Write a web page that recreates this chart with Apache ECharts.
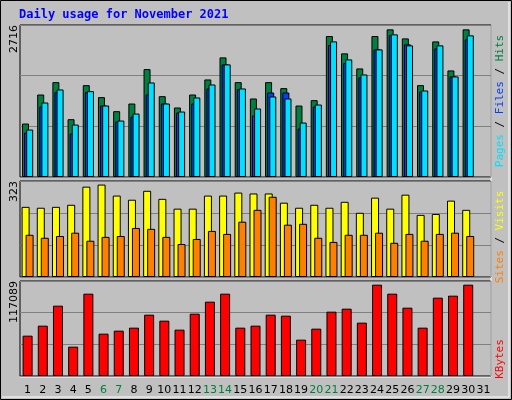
<!DOCTYPE html><html><head><meta charset="utf-8">
<script src="https://cdn.jsdelivr.net/npm/echarts@6/dist/echarts.min.js"></script>
<style>html,body{margin:0;padding:0;background:#c0c0c0}#c{width:512px;height:400px}</style></head><body><div id="c"></div>
<script>
const days = ['1','2','3','4','5','6','7','8','9','10','11','12','13','14','15','16','17','18','19','20','21','22','23','24','25','26','27','28','29','30','31'];
const weekend = ['6','7','13','14','20','21','27','28'];
const hits = [955,1474,1695,1033,1641,1427,1176,1313,1928,1444,1242,1474,1743,2137,1695,1403,1695,1588,1277,1373,2519,2209,1940,2519,2638,2477,1641,2423,1904,2638,null];
const files = [794,1259,1516,776,1516,1277,991,1080,1474,1313,1152,1313,1582,2012,1570,1098,1510,1510,865,1259,2358,2035,1779,2280,2537,2370,1528,2298,1797,2459,null];
const pages = [848,1331,1564,937,1534,1277,1009,1134,1689,1313,1170,1421,1653,2012,1582,1224,1439,1403,973,1295,2423,2101,1832,2280,2549,2352,1546,2352,1797,2531,null];
const visits = [236,233,236,243,304,311,274,260,290,263,230,230,274,274,284,281,281,250,233,243,233,253,216,267,230,277,209,212,257,226,null];
const sites = [142,132,138,149,122,135,138,165,162,135,111,128,155,145,186,226,270,176,179,132,118,142,142,149,115,145,122,145,149,138,null];
const kbytes = [49707,62031,86679,36150,101468,52172,55869,59566,75587,68193,57101,76820,91608,101468,59566,62031,75587,74355,44777,58334,79284,82982,65728,112559,101468,84214,59566,96538,99003,112559,null];
const maxLabels = ['2716','323','117089'];
const maxVals = [2716,323,117089];

const ch = echarts.init(document.getElementById('c'));
const grids = [
  {left:20,right:21,top:25,height:152},
  {left:20,right:21,top:181,height:96},
  {left:20,right:21,top:281,height:95}
].map(g=>Object.assign(g,{show:true,borderColor:'#000',borderWidth:1,backgroundColor:'#c0c0c0'}));
const xAxes = [0,1,2].map(i=>({type:'category',gridIndex:i,data:days,
  axisLine:{show:false},axisTick:{show:false},
  axisLabel:{show:i===2,interval:0,fontFamily:'DejaVu Sans',fontSize:11,margin:9,
    color:(v)=>weekend.includes(v)?'#008040':'#000'}}));
const yAxes = [0,1,2].map(i=>({type:'value',gridIndex:i,min:0,max:maxVals[i],interval:maxVals[i]/3,
  axisLabel:{show:false},axisLine:{show:false},axisTick:{show:false},
  splitLine:{lineStyle:{color:'#808080',width:1}}}));
const bs = {type:'bar',animation:false};
const series = [
  Object.assign({},bs,{xAxisIndex:0,yAxisIndex:0,data:hits,barWidth:7,barGap:'-70%',itemStyle:{color:'#008040',borderColor:'#000',borderWidth:1}}),
  Object.assign({},bs,{xAxisIndex:0,yAxisIndex:0,data:files,barWidth:7,barGap:'-70%',itemStyle:{color:'#0040ff',borderColor:'#000',borderWidth:1}}),
  Object.assign({},bs,{xAxisIndex:0,yAxisIndex:0,data:pages,barWidth:7,barGap:'-70%',itemStyle:{color:'#00e0ff',borderColor:'#000',borderWidth:1}}),
  Object.assign({},bs,{xAxisIndex:1,yAxisIndex:1,data:visits,barWidth:8,barGap:'-50%',itemStyle:{color:'#ffff00',borderColor:'#000',borderWidth:1}}),
  Object.assign({},bs,{xAxisIndex:1,yAxisIndex:1,data:sites,barWidth:8,barGap:'-50%',itemStyle:{color:'#ff8000',borderColor:'#000',borderWidth:1}}),
  Object.assign({},bs,{xAxisIndex:2,yAxisIndex:2,data:kbytes,barWidth:10,itemStyle:{color:'#ff0000',borderColor:'#000',borderWidth:1}})
];
const mono = 'DejaVu Sans Mono';
const r = (c)=>({fill:c,fontFamily:mono,fontSize:11});
const graphic = [
  {type:'rect',shape:{x:0.5,y:0.5,width:511,height:399},style:{fill:'none',stroke:'#000',lineWidth:1}},
  {type:'polyline',shape:{points:[[2,397],[509,397],[509,2]]},style:{stroke:'#fff',fill:'none',lineWidth:1}},
  {type:'polyline',shape:{points:[[20,377],[491,377],[491,25]]},style:{stroke:'#fff',fill:'none',lineWidth:1}},
  {type:'text',x:19,y:9,style:{text:'Daily usage for November 2021',fontFamily:mono,fontWeight:'bold',fontSize:12,fill:'#0000ff'}},
  {type:'text',x:14,y:25,rotation:Math.PI/2,style:{text:maxLabels[0],fontFamily:'DejaVu Sans',fontSize:11,fill:'#000',align:'right',verticalAlign:'middle'}},
  {type:'text',x:14,y:181,rotation:Math.PI/2,style:{text:maxLabels[1],fontFamily:'DejaVu Sans',fontSize:11,fill:'#000',align:'right',verticalAlign:'middle'}},
  {type:'text',x:14,y:281,rotation:Math.PI/2,style:{text:maxLabels[2],fontFamily:'DejaVu Sans',fontSize:11,fill:'#000',align:'right',verticalAlign:'middle'}},
  {type:'text',x:500,y:101,rotation:Math.PI/2,style:{text:'{p|Pages}{s| / }{f|Files}{s| / }{h|Hits}',align:'center',verticalAlign:'middle',
    rich:{p:r('#00e0ff'),f:r('#0040ff'),h:r('#008040'),s:r('#000')}}},
  {type:'text',x:500,y:237,rotation:Math.PI/2,style:{text:'{a|Sites}{s| / }{b|Visits}',align:'center',verticalAlign:'middle',
    rich:{a:r('#ff8000'),b:r('#ffff00'),s:r('#000')}}},
  {type:'text',x:500,y:359,rotation:Math.PI/2,style:{text:'KBytes',fontFamily:mono,fontSize:11,fill:'#ff0000',align:'center',verticalAlign:'middle'}}
];
ch.setOption({backgroundColor:'#c0c0c0',animation:false,grid:grids,xAxis:xAxes,yAxis:yAxes,series:series,graphic:graphic});
</script></body></html>
